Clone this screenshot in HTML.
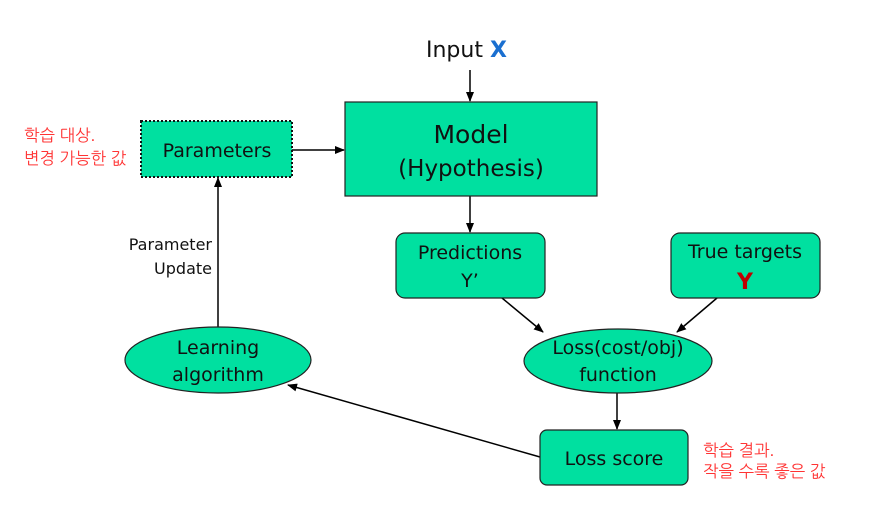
<!DOCTYPE html>
<html><head><meta charset="utf-8"><style>
body{margin:0;background:#fff}
svg text{font-family:"DejaVu Sans","Liberation Sans",sans-serif;fill:#111}
.k{font-family:"Liberation Sans","NanumGothic","Noto Sans CJK KR",sans-serif;fill:#ff3333;font-size:16.5px}
</style></head><body>
<svg width="869" height="508" viewBox="0 0 869 508" xmlns="http://www.w3.org/2000/svg">
<defs><marker id="a" markerWidth="10" markerHeight="10" refX="9" refY="5" orient="auto" markerUnits="userSpaceOnUse"><path d="M0,1 L10,5 L0,9 z" fill="#000"/></marker></defs>
<g stroke="#000" stroke-width="1.5" fill="none">
<line x1="470" y1="70" x2="470" y2="101" marker-end="url(#a)"/>
<line x1="292" y1="150" x2="344" y2="150" marker-end="url(#a)"/>
<line x1="470" y1="196" x2="470" y2="232" marker-end="url(#a)"/>
<line x1="502" y1="298" x2="543" y2="332" marker-end="url(#a)"/>
<line x1="717" y1="298" x2="677" y2="332" marker-end="url(#a)"/>
<line x1="617" y1="393" x2="617" y2="429" marker-end="url(#a)"/>
<line x1="540" y1="457" x2="288" y2="385" marker-end="url(#a)"/>
<line x1="218" y1="327" x2="218" y2="178" marker-end="url(#a)"/>
</g>
<text x="426" y="57" font-size="22">Input <tspan fill="#1a6fd0" font-weight="bold" style="fill:#1a6fd0">X</tspan></text>
<rect x="345" y="102" width="252" height="94" fill="#00e0a0" stroke="#222" stroke-width="1.2"/>
<text x="471" y="143" font-size="25" text-anchor="middle">Model</text>
<text x="471" y="176" font-size="23" text-anchor="middle">(Hypothesis)</text>
<rect x="141" y="121" width="151" height="56" fill="#00e0a0" stroke="#111" stroke-width="2" stroke-dasharray="2,2"/>
<text x="217" y="157" font-size="19" text-anchor="middle">Parameters</text>
<rect x="396" y="233" width="149" height="65" rx="9" fill="#00e0a0" stroke="#222" stroke-width="1.2"/>
<text x="470" y="259" font-size="19" text-anchor="middle">Predictions</text>
<text x="470" y="287" font-size="19" text-anchor="middle">Y’</text>
<rect x="671" y="233" width="149" height="65" rx="9" fill="#00e0a0" stroke="#222" stroke-width="1.2"/>
<text x="745" y="258" font-size="19" text-anchor="middle">True targets</text>
<text x="745" y="289" font-size="22" font-weight="bold" text-anchor="middle" style="fill:#c00000">Y</text>
<ellipse cx="618" cy="361" rx="94" ry="32" fill="#00e0a0" stroke="#222" stroke-width="1.2"/>
<text x="618" y="354" font-size="19" text-anchor="middle">Loss(cost/obj)</text>
<text x="618" y="381" font-size="19" text-anchor="middle">function</text>
<rect x="540" y="430" width="148" height="55" rx="7" fill="#00e0a0" stroke="#222" stroke-width="1.2"/>
<text x="614" y="465" font-size="19" text-anchor="middle">Loss score</text>
<ellipse cx="218" cy="360" rx="93" ry="33" fill="#00e0a0" stroke="#222" stroke-width="1.2"/>
<text x="218" y="354" font-size="19" text-anchor="middle">Learning</text>
<text x="218" y="381" font-size="19" text-anchor="middle">algorithm</text>
<text x="212" y="250" font-size="16" text-anchor="end">Parameter</text>
<text x="212" y="274" font-size="16" text-anchor="end">Update</text>
<text class="k" x="24" y="141">학습 대상.</text>
<text class="k" x="24" y="164">변경 가능한 값</text>
<text class="k" x="703" y="456">학습 결과.</text>
<text class="k" x="703" y="477">작을 수록 좋은 값</text>
</svg>
</body></html>
